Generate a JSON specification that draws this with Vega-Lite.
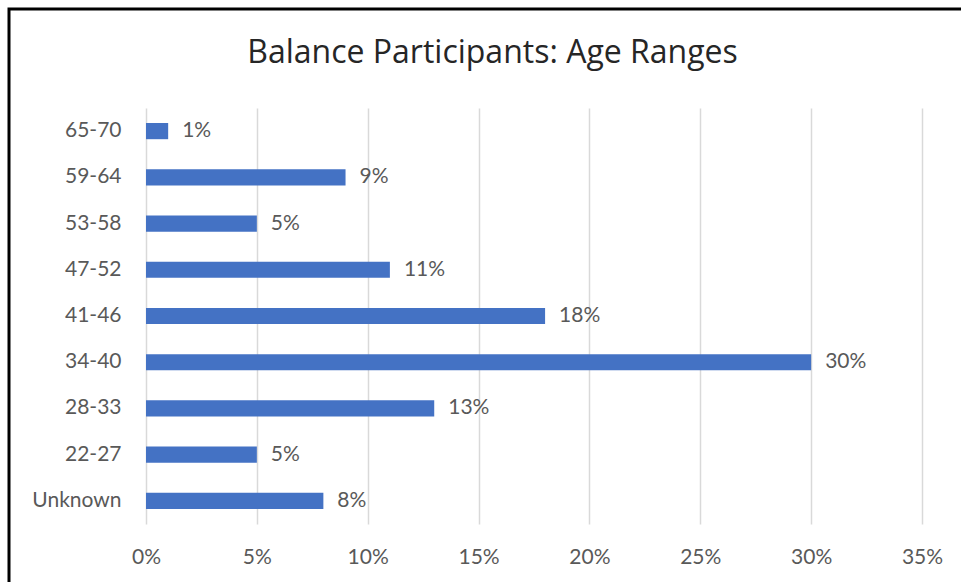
{
  "$schema": "https://vega.github.io/schema/vega-lite/v6.json",
  "autosize": {"type": "none"},
  "padding": {"left": 9, "top": 9, "right": -5, "bottom": -41},
  "width": 957,
  "height": 614,
  "background": "white",
  "title": {
    "text": "Balance Participants: Age Ranges",
    "font": "Open Sans",
    "fontSize": 32,
    "fontWeight": "normal",
    "color": "#262626",
    "anchor": "middle",
    "frame": "group",
    "orient": "top",
    "baseline": "alphabetic",
    "offset": -86,
    "dx": 5
  },
  "data": {
    "values": [
      {"age": "65-70", "pct": 0.01},
      {"age": "59-64", "pct": 0.09},
      {"age": "53-58", "pct": 0.05},
      {"age": "47-52", "pct": 0.11},
      {"age": "41-46", "pct": 0.18},
      {"age": "34-40", "pct": 0.30},
      {"age": "28-33", "pct": 0.13},
      {"age": "22-27", "pct": 0.05},
      {"age": "Unknown", "pct": 0.08}
    ]
  },
  "encoding": {
    "y": {
      "field": "age",
      "type": "nominal",
      "sort": null,
      "scale": {"range": [99, 515], "paddingInner": 0.65, "paddingOuter": 0.325},
      "axis": {
        "orient": "left",
        "offset": -112,
        "domain": false,
        "ticks": false,
        "tickSize": 0,
        "labelPadding": 0,
        "labelFont": "Lato",
        "labelFontSize": 21,
        "labelColor": "#595959",
        "grid": false,
        "title": null
      }
    },
    "x": {
      "field": "pct",
      "type": "quantitative",
      "scale": {"domain": [0, 0.35], "range": [137, 913], "nice": false, "zero": true},
      "axis": {
        "values": [0, 0.05, 0.1, 0.15, 0.2, 0.25, 0.3, 0.35],
        "format": ".0%",
        "orient": "bottom",
        "offset": -77,
        "domain": false,
        "ticks": false,
        "tickSize": 0,
        "labelPadding": 0,
        "labelFlush": false,
        "labelOverlap": false,
        "labelFont": "Lato",
        "labelFontSize": 21,
        "labelColor": "#595959",
        "grid": true,
        "gridColor": "#D9D9D9",
        "gridWidth": 1.5,
        "title": null
      }
    }
  },
  "layer": [
    {"mark": {"type": "bar", "color": "#4472C4"}},
    {
      "mark": {"type": "text", "align": "left", "baseline": "middle", "dx": 14, "font": "Lato", "fontSize": 21, "color": "#595959"},
      "encoding": {"text": {"field": "pct", "type": "quantitative", "format": ".0%"}}
    }
  ],
  "config": {"view": {"stroke": "#000000", "strokeWidth": 3}}
}
